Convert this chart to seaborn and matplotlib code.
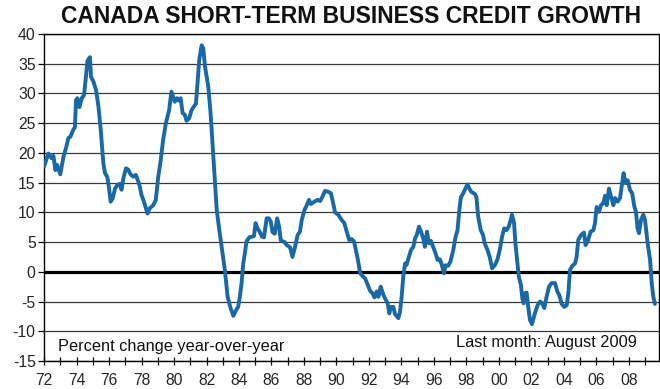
import matplotlib
matplotlib.use("Agg")
import matplotlib.pyplot as plt
import seaborn as sns
import pandas as pd

# Year-over-year growth of short-term business credit, Canada (percent)
dates = [
    1972.00, 1972.27, 1972.47, 1972.58, 1972.70, 1972.80, 1973.00, 1973.20, 1973.35, 1973.50,
    1973.62, 1973.80, 1973.90, 1973.97, 1974.05, 1974.18, 1974.32, 1974.46, 1974.58, 1974.67,
    1974.83, 1974.89, 1975.04, 1975.20, 1975.35, 1975.49, 1975.65, 1975.75, 1975.89, 1975.99,
    1976.10, 1976.22, 1976.37, 1976.51, 1976.67, 1976.77, 1976.88, 1977.04, 1977.18, 1977.32,
    1977.49, 1977.65, 1977.80, 1977.90, 1978.00, 1978.15, 1978.27, 1978.37, 1978.51, 1978.72,
    1978.88, 1979.03, 1979.17, 1979.33, 1979.50, 1979.70, 1979.84, 1979.94, 1980.05, 1980.19,
    1980.31, 1980.41, 1980.53, 1980.67, 1980.77, 1980.93, 1981.08, 1981.18, 1981.35, 1981.43,
    1981.55, 1981.70, 1981.80, 1981.91, 1982.11, 1982.25, 1982.37, 1982.52, 1982.63, 1982.79,
    1982.93, 1983.13, 1983.30, 1983.48, 1983.65, 1983.81, 1983.95, 1984.05, 1984.16, 1984.26,
    1984.36, 1984.46, 1984.63, 1984.77, 1984.92, 1985.02, 1985.14, 1985.28, 1985.42, 1985.54,
    1985.70, 1985.84, 1985.96, 1986.06, 1986.20, 1986.35, 1986.47, 1986.57, 1986.71, 1986.82,
    1986.93, 1987.05, 1987.15, 1987.29, 1987.45, 1987.61, 1987.75, 1987.86, 1988.03, 1988.17,
    1988.31, 1988.43, 1988.64, 1988.84, 1988.99, 1989.13, 1989.29, 1989.46, 1989.66, 1989.80,
    1989.91, 1990.11, 1990.32, 1990.48, 1990.63, 1990.78, 1990.94, 1991.08, 1991.19, 1991.32,
    1991.46, 1991.60, 1991.76, 1991.92, 1992.07, 1992.21, 1992.34, 1992.48, 1992.58, 1992.72,
    1992.89, 1993.03, 1993.15, 1993.25, 1993.35, 1993.50, 1993.60, 1993.81, 1993.91, 1994.01,
    1994.11, 1994.22, 1994.32, 1994.40, 1994.59, 1994.73, 1994.83, 1994.94, 1995.08, 1995.20,
    1995.34, 1995.44, 1995.57, 1995.69, 1995.81, 1995.95, 1996.10, 1996.22, 1996.36, 1996.47,
    1996.61, 1996.71, 1996.87, 1997.01, 1997.19, 1997.33, 1997.45, 1997.55, 1997.65, 1997.80,
    1997.94, 1998.06, 1998.18, 1998.28, 1998.51, 1998.61, 1998.72, 1998.88, 1999.02, 1999.12,
    1999.29, 1999.43, 1999.58, 1999.74, 1999.90, 2000.05, 2000.19, 2000.32, 2000.46, 2000.60,
    2000.72, 2000.80, 2000.93, 2001.01, 2001.14, 2001.22, 2001.35, 2001.44, 2001.52, 2001.60,
    2001.70, 2001.80, 2001.91, 2002.03, 2002.21, 2002.38, 2002.52, 2002.66, 2002.79, 2002.93,
    2003.08, 2003.24, 2003.45, 2003.59, 2003.71, 2003.86, 2004.02, 2004.17, 2004.27, 2004.37,
    2004.51, 2004.68, 2004.78, 2004.88, 2005.05, 2005.23, 2005.33, 2005.49, 2005.64, 2005.81,
    2005.91, 2006.01, 2006.16, 2006.28, 2006.43, 2006.53, 2006.63, 2006.77, 2006.90, 2007.04,
    2007.14, 2007.30, 2007.45, 2007.55, 2007.67, 2007.79, 2007.92, 2008.06, 2008.20, 2008.33,
    2008.43, 2008.53, 2008.62, 2008.74, 2008.88, 2008.99, 2009.15, 2009.30, 2009.40, 2009.50,
    2009.60,
]
growth = [
    17.7, 19.9, 19.1, 19.5, 17.1, 18.0, 16.4, 19.4, 20.8, 22.5,
    22.7, 23.9, 24.3, 28.9, 29.2, 27.7, 29.2, 29.7, 32.8, 35.5,
    36.1, 32.8, 32.0, 30.6, 27.8, 23.9, 18.3, 16.6, 16.0, 14.3,
    11.8, 12.3, 14.0, 14.6, 14.8, 13.8, 15.7, 17.4, 17.2, 16.4,
    16.0, 16.3, 15.2, 14.3, 12.9, 11.8, 10.7, 9.8, 10.7, 11.2,
    12.1, 16.0, 18.5, 22.2, 25.0, 27.2, 30.3, 29.5, 28.6, 29.2,
    28.8, 29.2, 26.7, 26.4, 25.4, 25.8, 27.2, 27.6, 28.3, 31.1,
    35.6, 38.1, 37.6, 34.5, 31.1, 26.7, 21.6, 15.4, 10.4, 7.0,
    4.2, 0.3, -4.2, -6.1, -7.4, -6.5, -5.9, -4.2, -1.9, 1.4,
    3.1, 5.1, 5.8, 5.9, 6.0, 8.2, 7.3, 6.7, 5.9, 5.8,
    9.0, 9.0, 8.4, 6.7, 6.4, 9.0, 7.6, 5.3, 5.1, 5.0,
    4.5, 4.3, 4.1, 2.5, 4.2, 6.2, 6.75, 8.7, 10.4, 11.2,
    12.1, 11.4, 11.8, 12.1, 11.9, 12.6, 13.6, 13.5, 13.2, 11.5,
    10.0, 9.6, 8.7, 8.2, 6.8, 5.35, 5.5, 5.1, 3.7, 2.0,
    -0.26, -0.7, -1.1, -2.2, -3.2, -3.6, -4.3, -3.3, -4.2, -2.5,
    -3.9, -4.7, -5.3, -7.0, -5.9, -5.9, -7.1, -7.8, -6.7, -4.2,
    -0.8, 1.4, 1.2, 2.0, 3.7, 4.2, 5.6, 6.2, 7.6, 6.75,
    5.6, 4.2, 6.75, 4.8, 5.2, 4.2, 3.1, 2.0, 2.1, 1.3,
    -0.26, 1.1, 1.0, 1.7, 3.7, 5.9, 7.0, 10.1, 12.5, 13.2,
    14.0, 14.7, 14.0, 13.5, 13.1, 12.6, 9.3, 7.0, 6.2, 4.8,
    3.7, 2.5, 0.6, 1.1, 2.0, 3.7, 5.9, 7.3, 7.0, 7.6,
    8.7, 9.6, 8.2, 4.8, 1.4, -0.8, -2.2, -4.5, -5.3, -3.6,
    -3.5, -5.9, -8.1, -8.8, -7.0, -5.6, -5.0, -5.3, -6.1, -4.2,
    -2.5, -1.9, -1.9, -3.3, -3.9, -5.4, -5.9, -5.6, -3.6, 0.3,
    1.0, 1.4, 2.5, 5.35, 6.2, 6.6, 4.5, 5.35, 6.75, 7.0,
    8.2, 10.9, 10.1, 11.2, 11.6, 12.8, 11.2, 14.0, 12.6, 11.2,
    12.4, 11.8, 12.4, 14.3, 16.6, 14.9, 15.4, 13.8, 13.2, 11.0,
    10.1, 7.3, 6.5, 8.7, 9.6, 8.7, 4.8, 2.0, -1.9, -4.2,
    -5.4,
]

y_ticks = [-15, -10, -5, 0, 5, 10, 15, 20, 25, 30, 35, 40]
year_ticks = list(range(1972, 2010))
year_labels = [f"{y % 100:02d}" if y % 2 == 0 else "" for y in year_ticks]

title = "CANADA SHORT-TERM BUSINESS CREDIT GROWTH"
note_left = "Percent change year-over-year"
note_right = "Last month: August 2009"

df = pd.DataFrame({"year": dates, "growth": growth})

sns.set_theme(style="white")
plt.rcParams["font.family"] = ["Liberation Sans", "DejaVu Sans"]

fig = plt.figure(figsize=(6.6, 3.89), dpi=100)
ax = fig.add_axes([0.0667, 0.072, 0.9318, 0.8406])

# horizontal grid
for v in y_ticks:
    ax.axhline(v, color="#3a3a3a", lw=0.9, zorder=1)
ax.axhline(0, color="black", lw=2.3, zorder=2)

sns.lineplot(data=df, x="year", y="growth", ax=ax, color="#1a69a6",
             lw=2.8, zorder=3, legend=False)

ax.set_xlim(1972, 2009.85)
ax.set_ylim(-15, 40)
ax.set_yticks(y_ticks)
ax.set_yticklabels([str(v) for v in y_ticks])
ax.set_xticks(year_ticks)
ax.set_xticklabels(year_labels)
ax.set_xlabel("")
ax.set_ylabel("")

for side in ["left", "right", "top", "bottom"]:
    ax.spines[side].set_visible(True)
    ax.spines[side].set_color("black")
    ax.spines[side].set_linewidth(1.0)

ax.tick_params(axis="y", direction="out", length=4, width=0.9, color="black",
               labelsize=11.3, pad=2, left=True)
ax.tick_params(axis="x", direction="inout", length=6, width=0.9, color="black",
               labelsize=11.3, pad=6, bottom=True)

ax.text(0.023, 0.045, note_left, transform=ax.transAxes, fontsize=11.8,
        ha="left", va="center", color="#111111")
ax.text(0.964, 0.058, note_right, transform=ax.transAxes, fontsize=11.8,
        ha="right", va="center", color="#111111")

fig.text(0.532, 0.958, title, ha="center", va="center", fontsize=16.5,
         fontweight="bold", color="#111111")

fig.savefig("out.png", dpi=100)
